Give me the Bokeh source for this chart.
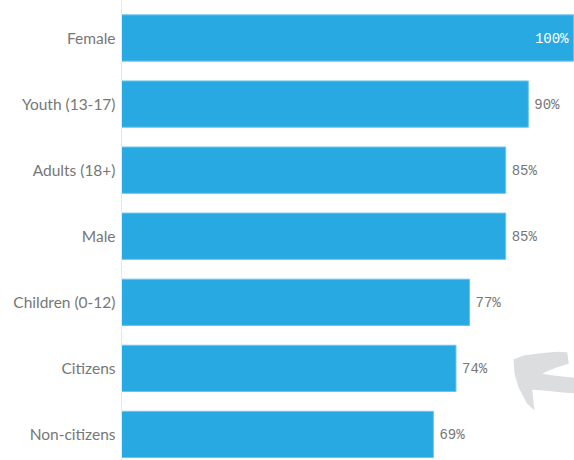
from bokeh.plotting import figure
from bokeh.models import ColumnDataSource, Range1d, FixedTicker, PolyAnnotation
from bokeh.core.properties import value
from bokeh.embed import file_html
from bokeh.resources import INLINE

categories = ["Female", "Youth (13-17)", "Adults (18+)", "Male",
              "Children (0-12)", "Citizens", "Non-citizens"]
values = [100, 90, 85, 85, 77, 74, 69]
value_labels = ["100%", "90%", "85%", "85%", "77%", "74%", "69%"]

idx = list(range(len(categories)))
inside = [v >= 95 for v in values]

src_in = ColumnDataSource(dict(
    y=[i for i, f in zip(idx, inside) if f],
    x=[v for v, f in zip(values, inside) if f],
    t=[t for t, f in zip(value_labels, inside) if f]))
src_out = ColumnDataSource(dict(
    y=[i for i, f in zip(idx, inside) if not f],
    x=[v for v, f in zip(values, inside) if not f],
    t=[t for t, f in zip(value_labels, inside) if not f]))
src = ColumnDataSource(dict(y=idx, v=values))

W, H, LEFT = 574, 460, 121
p = figure(width=W, height=H, output_backend="svg", toolbar_location=None,
           x_range=Range1d(0, 100.22), y_range=Range1d(6.394, -0.5675),
           min_border_left=LEFT, min_border_right=0, min_border_top=0,
           min_border_bottom=0, x_axis_location=None)
p.outline_line_color = None
p.xgrid.visible = False
p.ygrid.visible = False
p.background_fill_color = "white"

p.hbar(y="y", right="v", left=0, height=0.7, source=src,
       fill_color="#29a9e1", line_color="#6cc4ec", line_width=1)

p.text(x="x", y="y", text="t", source=src_out, x_offset=6, y_offset=1,
       text_font=value("Liberation Mono"), text_font_size="14px",
       text_color="#777777", text_baseline="middle", text_align="left")
p.text(x="x", y="y", text="t", source=src_in, x_offset=-5, y_offset=1,
       text_font=value("Liberation Mono"), text_font_size="14px",
       text_color="#ffffff", text_baseline="middle", text_align="right")

ax = p.yaxis[0]
ax.ticker = FixedTicker(ticks=idx)
ax.major_label_overrides = {i: c for i, c in zip(idx, categories)}
ax.major_tick_line_color = None
ax.minor_tick_line_color = None
ax.major_tick_in = 0
ax.major_tick_out = 0
ax.major_label_standoff = 6
ax.axis_line_color = "#e8e8e8"
ax.major_label_text_font = "Lato"
ax.major_label_text_font_size = "15.5px"
ax.major_label_text_color = "#777777"

# decorative grey arrow (image pixel outline -> frame screen units, y from bottom)
arrow_img = [(513, 359), (523, 355), (540, 352.7), (556.7, 351.3), (566.7, 351.7),
             (568.3, 363.3), (556.7, 366.7), (546.7, 370.7), (541.7, 373.3),
             (553, 375), (575, 377.5), (575, 393), (560, 391.7), (543, 390),
             (531.7, 389.3), (533, 401.7), (534, 410), (526.7, 403.3),
             (518, 386.7), (514, 373.3)]
p.add_layout(PolyAnnotation(
    xs=[x - LEFT for x, _ in arrow_img], ys=[H - y for _, y in arrow_img],
    xs_units="screen", ys_units="screen",
    fill_color="#dcdddf", fill_alpha=1.0, line_color=None))

open("out.html", "w").write(file_html(p, INLINE))
